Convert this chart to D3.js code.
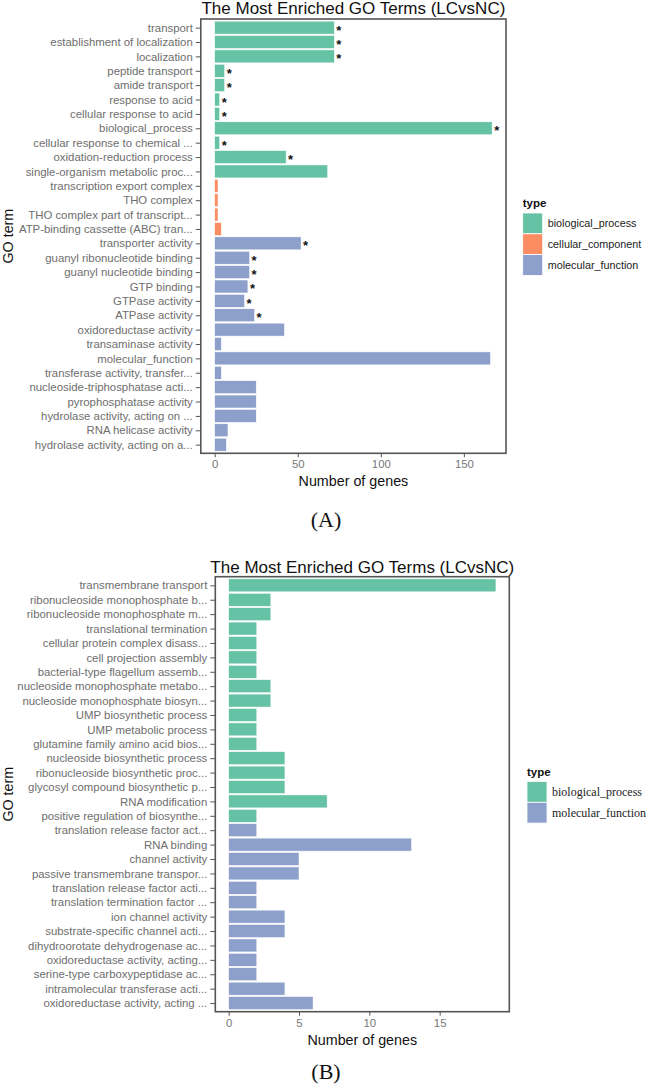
<!DOCTYPE html>
<html>
<head>
<meta charset="utf-8">
<script src="https://cdn.jsdelivr.net/npm/d3@7"></script>
<style>
  html, body { margin: 0; padding: 0; background: #fff; }
  svg { display: block; }
</style>
</head>
<body>
<svg id="chart" width="647" height="1084"></svg>
<script>
// ---------- DATA ----------
const titleText = "The Most Enriched GO Terms (LCvsNC)";
const typeNames = ["biological_process", "cellular_component", "molecular_function"];
const typeColors = ["#66C2A5", "#FC8D62", "#8DA0CB"];

const topTerms = [
  "transport", "establishment of localization", "localization", "peptide transport",
  "amide transport", "response to acid", "cellular response to acid", "biological_process",
  "cellular response to chemical ...", "oxidation-reduction process", "single-organism metabolic proc...",
  "transcription export complex", "THO complex", "THO complex part of transcript...",
  "ATP-binding cassette (ABC) tran...", "transporter activity", "guanyl ribonucleotide binding",
  "guanyl nucleotide binding", "GTP binding", "GTPase activity", "ATPase activity",
  "oxidoreductase activity", "transaminase activity", "molecular_function",
  "transferase activity, transfer...", "nucleoside-triphosphatase acti...", "pyrophosphatase activity",
  "hydrolase activity, acting on ...", "RNA helicase activity", "hydrolase activity, acting on a..."
];
const topCounts = [72, 72, 72, 6, 6, 3, 3, 167, 3, 43, 68, 2, 2, 2, 4, 52, 21, 21, 20, 18, 24, 42, 4, 166, 4, 25, 25, 25, 8, 7];
const topTypes = [
  "biological_process","biological_process","biological_process","biological_process","biological_process",
  "biological_process","biological_process","biological_process","biological_process","biological_process",
  "biological_process","cellular_component","cellular_component","cellular_component","cellular_component",
  "molecular_function","molecular_function","molecular_function","molecular_function","molecular_function",
  "molecular_function","molecular_function","molecular_function","molecular_function","molecular_function",
  "molecular_function","molecular_function","molecular_function","molecular_function","molecular_function"
];
const topStars = [1,1,1,1,1,1,1,1,1,1,0,0,0,0,0,1,1,1,1,1,1,0,0,0,0,0,0,0,0,0];
const topTicks = [0, 50, 100, 150];

const botTerms = [
  "transmembrane transport", "ribonucleoside monophosphate b...", "ribonucleoside monophosphate m...",
  "translational termination", "cellular protein complex disass...", "cell projection assembly",
  "bacterial-type flagellum assemb...", "nucleoside monophosphate metabo...", "nucleoside monophosphate biosyn...",
  "UMP biosynthetic process", "UMP metabolic process", "glutamine family amino acid bios...",
  "nucleoside biosynthetic process", "ribonucleoside biosynthetic proc...", "glycosyl compound biosynthetic p...",
  "RNA modification", "positive regulation of biosynthe...", "translation release factor act...",
  "RNA binding", "channel activity", "passive transmembrane transpor...", "translation release factor acti...",
  "translation termination factor ...", "ion channel activity", "substrate-specific channel acti...",
  "dihydroorotate dehydrogenase ac...", "oxidoreductase activity, acting...", "serine-type carboxypeptidase ac...",
  "intramolecular transferase acti...", "oxidoreductase activity, acting ..."
];
const botCounts = [19, 3, 3, 2, 2, 2, 2, 3, 3, 2, 2, 2, 4, 4, 4, 7, 2, 2, 13, 5, 5, 2, 2, 4, 4, 2, 2, 2, 4, 6];
const botTypes = [
  "biological_process","biological_process","biological_process","biological_process","biological_process",
  "biological_process","biological_process","biological_process","biological_process","biological_process",
  "biological_process","biological_process","biological_process","biological_process","biological_process",
  "biological_process","biological_process",
  "molecular_function","molecular_function","molecular_function","molecular_function","molecular_function",
  "molecular_function","molecular_function","molecular_function","molecular_function","molecular_function",
  "molecular_function","molecular_function","molecular_function"
];
const botStars = botTerms.map(() => 0);
const botTicks = [0, 5, 10, 15];

// ---------- DRAW ----------
const svg = d3.select("#chart");
const SANS = "'Liberation Sans', Arial, Helvetica, sans-serif";
const SERIF = "'Liberation Serif', 'Times New Roman', serif";
const color = d3.scaleOrdinal().domain(typeNames).range(typeColors);

function drawChart(cfg) {
  const g = svg.append("g");
  const p = cfg.panel;
  const maxV = d3.max(cfg.counts);
  const x = d3.scaleLinear().domain([-0.05 * maxV, 1.05 * maxV]).range([p.left, p.right]);
  const y = d3.scalePoint().domain(cfg.terms).range([p.top, p.bottom]).padding(0.6);
  const bh = y.step() * 0.9;

  // bars
  g.selectAll("rect.bar").data(cfg.terms).join("rect")
    .attr("class", "bar")
    .attr("x", x(0))
    .attr("y", d => y(d) - bh / 2)
    .attr("width", (d, i) => x(cfg.counts[i]) - x(0))
    .attr("height", bh)
    .attr("fill", (d, i) => color(cfg.types[i]))
    .attr("stroke", "#ffffff")
    .attr("stroke-width", 0.5);

  // stars
  g.selectAll("text.star").data(cfg.terms.filter((d, i) => cfg.stars[i])).join("text")
    .attr("class", "star")
    .attr("x", d => x(cfg.counts[cfg.terms.indexOf(d)]) + 2)
    .attr("y", d => y(d) + 7)
    .attr("font-family", SANS)
    .attr("font-size", 13)
    .attr("font-weight", "bold")
    .attr("fill", "#111")
    .text("*");

  // y axis
  const yAxis = g.append("g").attr("transform", `translate(${p.left},0)`)
    .call(d3.axisLeft(y).tickSize(5).tickPadding(3));
  yAxis.select(".domain").remove();
  yAxis.selectAll("line").attr("stroke", "#555").attr("stroke-width", 1);
  yAxis.selectAll("text").attr("font-family", SANS).attr("font-size", 11.4).attr("fill", "#6e6e6e");

  // x axis
  const xAxis = g.append("g").attr("transform", `translate(0,${p.bottom})`)
    .call(d3.axisBottom(x).tickValues(cfg.ticks).tickSize(4).tickPadding(3));
  xAxis.select(".domain").remove();
  xAxis.selectAll("line").attr("stroke", "#555").attr("stroke-width", 1);
  xAxis.selectAll("text").attr("font-family", SANS).attr("font-size", 11.4).attr("fill", "#777");

  // panel border
  g.append("rect")
    .attr("x", p.left).attr("y", p.top)
    .attr("width", p.right - p.left).attr("height", p.bottom - p.top)
    .attr("fill", "none").attr("stroke", "#555").attr("stroke-width", 1.6);

  // title
  g.append("text")
    .attr("x", (p.left + p.right) / 2).attr("y", cfg.titleY)
    .attr("text-anchor", "middle")
    .attr("font-family", SANS).attr("font-size", 17).attr("fill", "#111")
    .text(titleText);

  // x label
  g.append("text")
    .attr("x", (p.left + p.right) / 2).attr("y", cfg.xLabelY)
    .attr("text-anchor", "middle")
    .attr("font-family", SANS).attr("font-size", 14.3).attr("fill", "#111")
    .text("Number of genes");

  // y label
  g.append("text")
    .attr("transform", `translate(${13},${(p.top + p.bottom) / 2}) rotate(-90)`)
    .attr("text-anchor", "middle")
    .attr("font-family", SANS).attr("font-size", 14.3).attr("fill", "#111")
    .text("GO term");

  // legend
  const lg = g.append("g");
  lg.append("text")
    .attr("x", cfg.legend.x).attr("y", cfg.legend.y)
    .attr("font-family", SANS).attr("font-size", 11.5).attr("font-weight", "bold").attr("fill", "#111")
    .text("type");
  const lt = cfg.legend.types;
  lg.selectAll("rect").data(lt).join("rect")
    .attr("x", cfg.legend.x)
    .attr("y", (d, i) => cfg.legend.y + 6 + i * cfg.legend.kh)
    .attr("width", 20).attr("height", cfg.legend.kh)
    .attr("fill", d => color(d))
    .attr("stroke", "#fff").attr("stroke-width", 0.8);
  lg.selectAll("text.lab").data(lt).join("text")
    .attr("class", "lab")
    .attr("x", cfg.legend.x + 25)
    .attr("y", (d, i) => cfg.legend.y + 6 + i * cfg.legend.kh + cfg.legend.kh / 2 + 4)
    .attr("font-family", cfg.legend.font).attr("font-size", cfg.legend.fs).attr("fill", "#222")
    .text(d => d);

  // panel letter
  g.append("text")
    .attr("x", cfg.letter.x).attr("y", cfg.letter.y)
    .attr("text-anchor", "middle")
    .attr("font-family", SERIF).attr("font-size", 22).attr("fill", "#111")
    .text(cfg.letter.text);
}

drawChart({
  terms: topTerms, counts: topCounts, types: topTypes, stars: topStars, ticks: topTicks,
  panel: { left: 200.8, right: 506, top: 19, bottom: 453.3 },
  titleY: 13.5, xLabelY: 485.5,
  legend: { x: 522.7, y: 207, kh: 20.8, types: typeNames, font: SANS, fs: 10.8 },
  letter: { x: 326, y: 527, text: "(A)" }
});

drawChart({
  terms: botTerms, counts: botCounts, types: botTypes, stars: botStars, ticks: botTicks,
  panel: { left: 215.3, right: 509.3, top: 576.7, bottom: 1011.7 },
  titleY: 572.7, xLabelY: 1044.5,
  legend: { x: 527, y: 775.5, kh: 20.8, types: ["biological_process", "molecular_function"], font: SERIF, fs: 12 },
  letter: { x: 326, y: 1079, text: "(B)" }
});
</script>
</body>
</html>
